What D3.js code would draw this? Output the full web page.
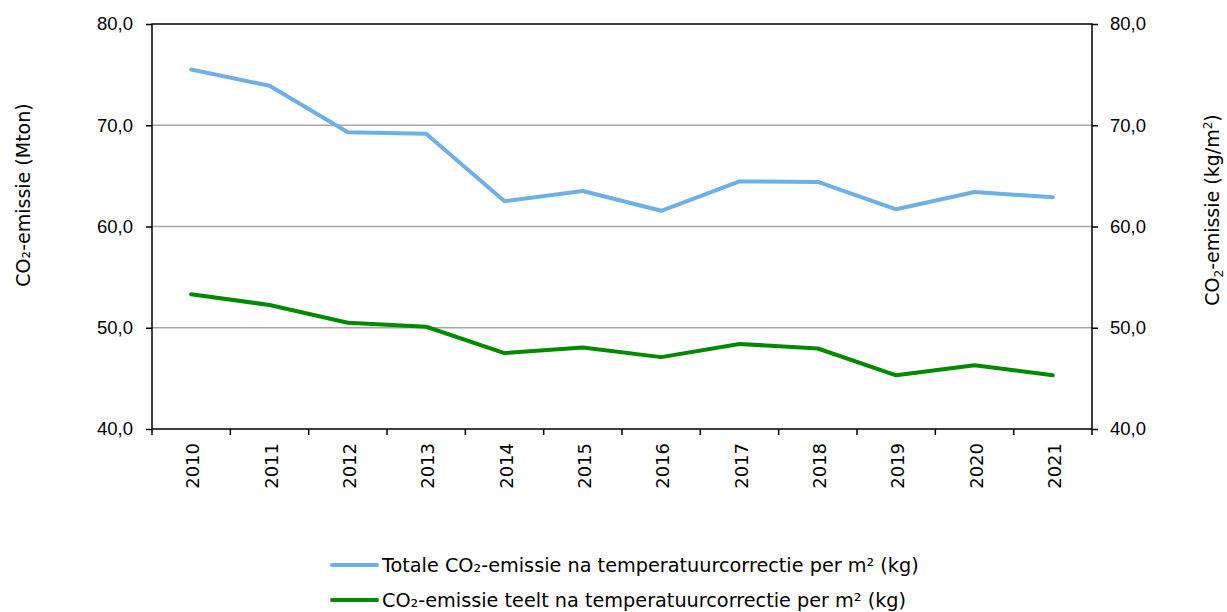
<!DOCTYPE html>
<html>
<head>
<meta charset="utf-8">
<script src="https://cdn.jsdelivr.net/npm/d3@7"></script>
<style>
  body { margin: 0; background: #fff; }
  svg { font-family: "DejaVu Sans", Verdana, sans-serif; }
</style>
</head>
<body>
<svg id="chart" width="1227" height="612"></svg>
<script>
const years = ['2010', '2011', '2012', '2013', '2014', '2015', '2016', '2017', '2018', '2019', '2020', '2021']
const totaal = [75.5, 73.9, 69.3, 69.15, 62.5, 63.5, 61.55, 64.45, 64.4, 61.7, 63.4, 62.9]
const teelt = [53.3, 52.25, 50.5, 50.1, 47.5, 48.05, 47.1, 48.4, 47.95, 45.3, 46.3, 45.3]
const yTicks = [40, 50, 60, 70, 80]
const legendLabels = [
    'Totale CO\u2082-emissie na temperatuurcorrectie per m\u00b2 (kg)',
    'CO\u2082-emissie teelt na temperatuurcorrectie per m\u00b2 (kg)'
]
const colors = ['#6eb0e6', '#008a00']

let plotLeft = 152
let plotRight = 1092
let plotTop = 24
let plotBottom = 429

const svg = d3.select('#chart')
const fmt = d => d3.format('.1f')(d).replace('.', ',')

let x = d3.scaleBand().domain(years).range([plotLeft, plotRight])
let y = d3.scaleLinear().domain([40, 80]).range([plotBottom, plotTop])

// gridlines
svg.append('g').selectAll('line').data(yTicks.filter(d => d > 40 && d < 80)).enter()
    .append('line')
    .attr('x1', plotLeft).attr('x2', plotRight)
    .attr('y1', d => y(d)).attr('y2', d => y(d))
    .style('stroke', '#a6a6a6')
    .style('stroke-width', 1.3)

// frame
svg.append('rect')
    .attr('x', plotLeft).attr('y', plotTop)
    .attr('width', plotRight - plotLeft).attr('height', plotBottom - plotTop)
    .style('fill', 'none').style('stroke', '#000').style('stroke-width', 1.5)

// y axes on both sides
let yLeft = svg.append('g').attr('transform', `translate(${plotLeft},0)`)
    .call(d3.axisLeft(y).tickValues(yTicks).tickFormat(fmt).tickSize(6).tickPadding(13))
let yRight = svg.append('g').attr('transform', `translate(${plotRight},0)`)
    .call(d3.axisRight(y).tickValues(yTicks).tickFormat(fmt).tickSize(6).tickPadding(12))
;[yLeft, yRight].forEach(g => {
    g.select('.domain').remove()
    g.selectAll('line').style('stroke', '#000').style('stroke-width', 1.5)
    g.selectAll('text').attr('font-family', null).style('font-size', '18.5px').style('fill', '#000')
})

// x axis: ticks on band boundaries
svg.append('g').selectAll('line').data(years.concat(['end'])).enter()
    .append('line')
    .attr('x1', (d, i) => plotLeft + i * x.bandwidth())
    .attr('x2', (d, i) => plotLeft + i * x.bandwidth())
    .attr('y1', plotBottom).attr('y2', plotBottom + 6)
    .style('stroke', '#000').style('stroke-width', 1.5)

svg.append('g').selectAll('text').data(years).enter()
    .append('text')
    .attr('transform', d => `translate(${x(d) + x.bandwidth() / 2 + 8},${plotBottom + 14}) rotate(-90)`)
    .attr('text-anchor', 'end')
    .style('font-size', '18px')
    .text(d => d)

// axis titles
svg.append('text')
    .attr('transform', 'translate(30,195) rotate(-90)')
    .attr('text-anchor', 'middle')
    .style('font-size', '19px')
    .text('CO\u2082-emissie (Mton)')

let rt = svg.append('text')
    .attr('transform', 'translate(1219,210) rotate(-90)')
    .attr('text-anchor', 'middle')
    .style('font-size', '19px')
rt.append('tspan').text('CO')
rt.append('tspan').text('2').style('font-size', '12px').attr('baseline-shift', '-4')
rt.append('tspan').text('-emissie (kg/m')
rt.append('tspan').text('2').style('font-size', '12px').attr('baseline-shift', '7')
rt.append('tspan').text(')')

// lines
let line = d3.line()
    .x((d, i) => x(years[i]) + x.bandwidth() / 2)
    .y(d => y(d))

;[totaal, teelt].forEach((series, k) => {
    svg.append('path')
        .datum(series)
        .attr('d', line)
        .style('fill', 'none')
        .style('stroke', colors[k])
        .style('stroke-width', 4)
        .style('stroke-linecap', 'round')
        .style('stroke-linejoin', 'round')
})

// legend (second row kept just inside the bottom edge)
let legend = svg.append('g').selectAll('g').data(legendLabels).enter()
    .append('g')
    .attr('transform', (d, i) => `translate(332,${565 + i * 35})`)
legend.append('line')
    .attr('x1', 0).attr('x2', 45)
    .style('stroke', (d, i) => colors[i])
    .style('stroke-width', 4)
    .style('stroke-linecap', 'round')
legend.append('text')
    .attr('x', 50).attr('y', 7)
    .style('font-size', '19.25px')
    .text(d => d)
</script>
</body>
</html>
